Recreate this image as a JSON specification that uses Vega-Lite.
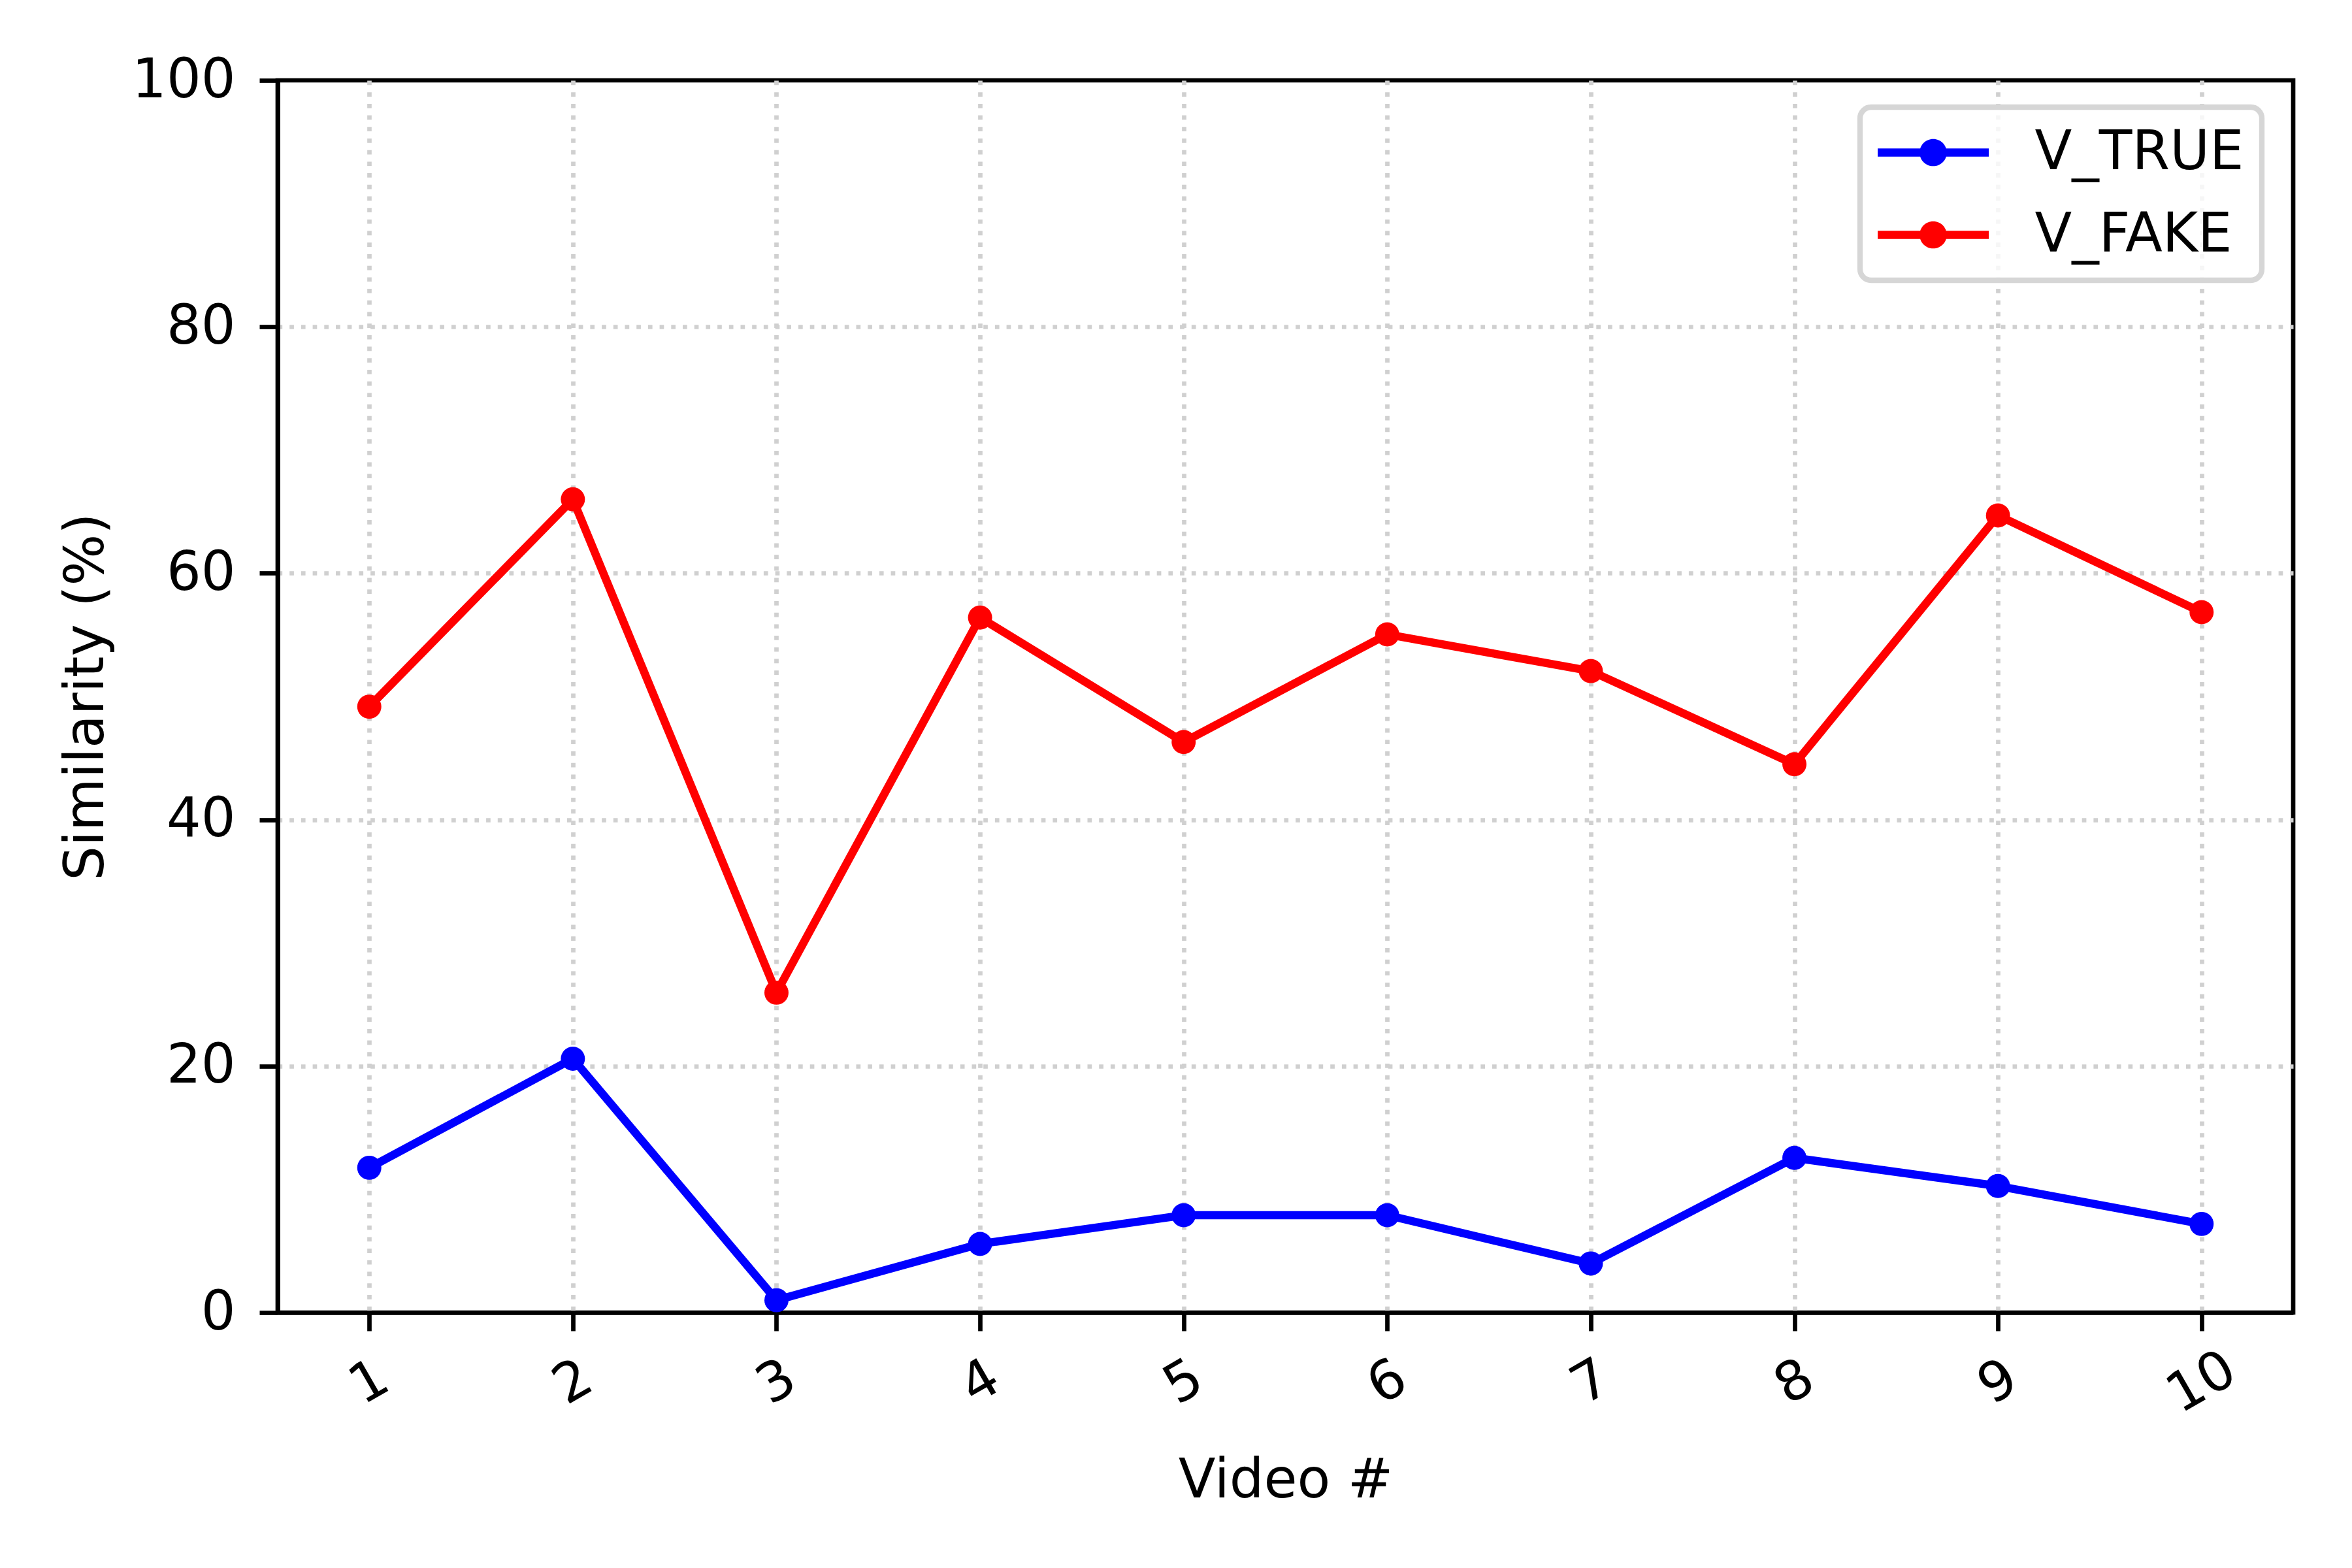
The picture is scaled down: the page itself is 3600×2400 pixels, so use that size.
{
  "$schema": "https://vega.github.io/schema/vega-lite/v6.json",
  "width": 3085,
  "height": 1886,
  "autosize": {"type": "none"},
  "padding": {"left": 425, "top": 123, "right": 90, "bottom": 391},
  "background": "white",
  "config": {
    "font": "DejaVu Sans",
    "view": {"stroke": "black", "strokeWidth": 6.7},
    "axis": {
      "labelFont": "DejaVu Sans",
      "labelFontSize": 83,
      "labelColor": "black",
      "titleFont": "DejaVu Sans",
      "titleFontSize": 83,
      "titleFontWeight": "normal",
      "titleColor": "black",
      "tickColor": "black",
      "tickWidth": 6.7,
      "tickSize": 28,
      "domainColor": "black",
      "domainWidth": 6.7,
      "gridColor": "#d0d0d0",
      "gridWidth": 6.7,
      "gridDash": [6.7, 11],
      "labelFlush": false,
      "labelOverlap": false,
      "labelBound": false
    },
    "legend": {
      "labelFont": "DejaVu Sans",
      "labelFontSize": 83,
      "labelColor": "black",
      "labelLimit": 2000
    }
  },
  "data": {
    "values": [
      {"video": 1, "series": "V_TRUE", "value": 11.75},
      {"video": 2, "series": "V_TRUE", "value": 20.6},
      {"video": 3, "series": "V_TRUE", "value": 1.0},
      {"video": 4, "series": "V_TRUE", "value": 5.57},
      {"video": 5, "series": "V_TRUE", "value": 7.9},
      {"video": 6, "series": "V_TRUE", "value": 7.9},
      {"video": 7, "series": "V_TRUE", "value": 3.98},
      {"video": 8, "series": "V_TRUE", "value": 12.55},
      {"video": 9, "series": "V_TRUE", "value": 10.27},
      {"video": 10, "series": "V_TRUE", "value": 7.19},
      {"video": 1, "series": "V_FAKE", "value": 49.17},
      {"video": 2, "series": "V_FAKE", "value": 66.0},
      {"video": 3, "series": "V_FAKE", "value": 25.96},
      {"video": 4, "series": "V_FAKE", "value": 56.4},
      {"video": 5, "series": "V_FAKE", "value": 46.3},
      {"video": 6, "series": "V_FAKE", "value": 55.04},
      {"video": 7, "series": "V_FAKE", "value": 52.06},
      {"video": 8, "series": "V_FAKE", "value": 44.5},
      {"video": 9, "series": "V_FAKE", "value": 64.69},
      {"video": 10, "series": "V_FAKE", "value": 56.84}
    ]
  },
  "encoding": {
    "x": {
      "field": "video",
      "type": "quantitative",
      "scale": {"domain": [0.55, 10.45], "nice": false, "zero": false},
      "axis": {
        "values": [1, 2, 3, 4, 5, 6, 7, 8, 9, 10],
        "title": "Video #",
        "labelAngle": -30,
        "labelAlign": "center",
        "labelBaseline": "middle",
        "labelPadding": 79,
        "titleY": 282,
        "titleBaseline": "alphabetic",
        "grid": true
      }
    },
    "y": {
      "field": "value",
      "type": "quantitative",
      "scale": {"domain": [0, 100], "nice": false, "zero": false},
      "axis": {
        "values": [0, 20, 40, 60, 80, 100],
        "title": "Similarity (%)",
        "labelPadding": 37,
        "titleAngle": -90,
        "titleX": -268,
        "titleY": 943,
        "titleAnchor": "middle",
        "titleAlign": "center",
        "titleBaseline": "alphabetic",
        "grid": true,
        "gridOpacity": {
          "condition": {"test": "datum.value == 0 || datum.value == 100", "value": 0},
          "value": 1
        }
      }
    },
    "color": {
      "field": "series",
      "type": "nominal",
      "scale": {"domain": ["V_TRUE", "V_FAKE"], "range": ["#0000ff", "#ff0000"]},
      "legend": {
        "title": null,
        "orient": "none",
        "legendX": 2422,
        "legendY": 41,
        "padding": 27,
        "symbolType": "M-2,-0.147H2V0.147H-2Z M0.49,0A0.49,0.49,0,1,1,-0.49,0A0.49,0.49,0,1,1,0.49,0Z",
        "symbolSize": 7225,
        "symbolOffset": 42.5,
        "symbolStrokeWidth": 0,
        "symbolOpacity": 1,
        "labelOffset": 113,
        "labelLimit": 2000,
        "rowPadding": 41,
        "labelFontSize": 83,
        "strokeColor": "#d6d6d6",
        "cornerRadius": 17,
        "fillColor": "rgba(255,255,255,0.8)",
        "encode": {
          "legend": {
            "update": {
              "strokeWidth": {"value": 8.3}
            }
          },
          "symbols": {
            "update": {
              "fill": {"scale": "color", "field": "value"},
              "stroke": {"value": "transparent"},
              "opacity": {"value": 1}
            }
          }
        }
      }
    }
  },
  "layer": [
    {
      "mark": {"type": "line", "strokeWidth": 12.5}
    },
    {
      "mark": {"type": "point", "filled": true, "opacity": 1, "size": 1365, "shape": "circle", "strokeWidth": 0}
    }
  ]
}
